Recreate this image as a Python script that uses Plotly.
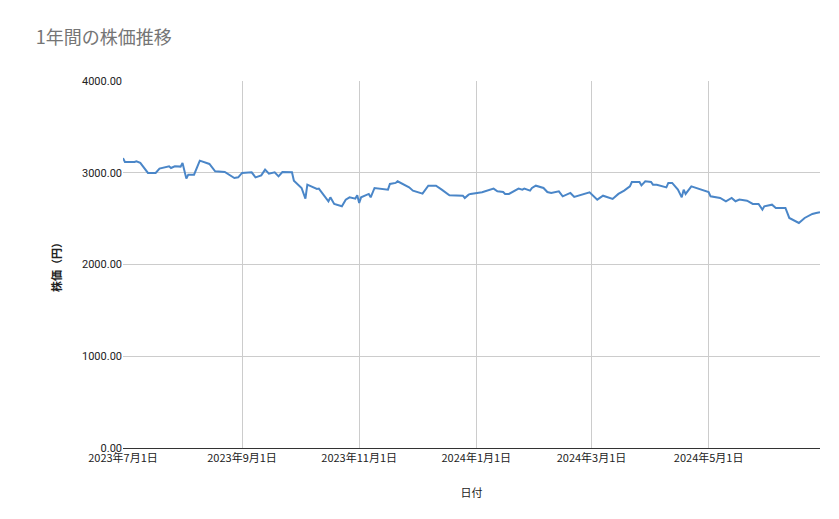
import plotly.graph_objects as go

dates = ["2023-07-01","2023-07-02","2023-07-07","2023-07-08","2023-07-10","2023-07-14","2023-07-18","2023-07-20","2023-07-25","2023-07-26","2023-07-28","2023-07-31","2023-08-01","2023-08-03","2023-08-04","2023-08-07","2023-08-10","2023-08-15","2023-08-18","2023-08-23","2023-08-28","2023-08-30","2023-09-01","2023-09-06","2023-09-08","2023-09-11","2023-09-13","2023-09-15","2023-09-18","2023-09-20","2023-09-22","2023-09-27","2023-09-28","2023-10-02","2023-10-04","2023-10-05","2023-10-10","2023-10-11","2023-10-16","2023-10-17","2023-10-19","2023-10-23","2023-10-25","2023-10-27","2023-10-30","2023-10-31","2023-11-01","2023-11-02","2023-11-06","2023-11-07","2023-11-09","2023-11-14","2023-11-16","2023-11-17","2023-11-20","2023-11-21","2023-11-27","2023-11-29","2023-12-04","2023-12-07","2023-12-11","2023-12-14","2023-12-18","2023-12-25","2023-12-26","2023-12-28","2023-12-29","2024-01-04","2024-01-10","2024-01-12","2024-01-15","2024-01-16","2024-01-18","2024-01-23","2024-01-25","2024-01-26","2024-01-29","2024-01-30","2024-02-01","2024-02-05","2024-02-07","2024-02-09","2024-02-13","2024-02-15","2024-02-19","2024-02-21","2024-02-26","2024-02-29","2024-03-04","2024-03-07","2024-03-12","2024-03-15","2024-03-18","2024-03-21","2024-03-22","2024-03-26","2024-03-27","2024-03-29","2024-04-01","2024-04-02","2024-04-04","2024-04-08","2024-04-09","2024-04-10","2024-04-12","2024-04-15","2024-04-17","2024-04-18","2024-04-19","2024-04-22","2024-04-25","2024-04-29","2024-05-01","2024-05-02","2024-05-07","2024-05-10","2024-05-13","2024-05-15","2024-05-17","2024-05-21","2024-05-24","2024-05-27","2024-05-29","2024-05-30","2024-06-03","2024-06-05","2024-06-10","2024-06-12","2024-06-17","2024-06-20","2024-06-24","2024-06-26","2024-06-28"]
prices = [3160,3117,3117,3125,3107,2998,2998,3045,3070,3052,3070,3067,3107,2936,2979,2979,3132,3096,3016,3008,2943,2950,2998,3005,2950,2972,3034,2990,3005,2961,3008,3005,2914,2834,2718,2870,2823,2827,2689,2732,2660,2634,2707,2732,2718,2754,2671,2732,2769,2732,2834,2816,2816,2878,2889,2907,2841,2805,2772,2859,2859,2816,2754,2750,2725,2761,2769,2787,2827,2798,2790,2769,2769,2827,2816,2827,2805,2834,2859,2834,2790,2780,2798,2743,2780,2736,2769,2787,2707,2750,2714,2769,2805,2852,2899,2899,2863,2907,2899,2870,2870,2852,2841,2889,2889,2816,2732,2816,2769,2852,2834,2805,2790,2743,2725,2689,2725,2689,2707,2696,2660,2660,2598,2634,2652,2616,2616,2507,2453,2507,2551,2561,2570]

tick_vals = ["2023-07-01","2023-09-01","2023-11-01","2024-01-01","2024-03-01","2024-05-01"]
tick_text = ["2023年7月1日","2023年9月1日","2023年11月1日","2024年1月1日","2024年3月1日","2024年5月1日"]

fig = go.Figure(go.Scatter(x=dates, y=prices, mode="lines",
                           line=dict(color="#4a86c8", width=2), hoverinfo="x+y"))
font = "Roboto, Arial, sans-serif"
fig.update_layout(
    width=839, height=519, paper_bgcolor="white", plot_bgcolor="white",
    margin=dict(l=115, r=27, t=73, b=79, autoexpand=False),
    font=dict(family=font, size=11, color="#222"),
    title=dict(text="1年間の株価推移", x=0.033, y=0.955, xanchor="left", yanchor="top",
               font=dict(size=18, color="#757575", family="Noto Sans CJK JP")),
    showlegend=False,
    xaxis=dict(type="date", range=["2023-07-01","2024-06-28"], tickvals=tick_vals, ticktext=tick_text,
               showgrid=True, gridcolor="#cccccc", zeroline=False, showline=True, linecolor="#333",
               ticks="", automargin=False, tickfont=dict(size=11, family="Noto Sans CJK JP"),
               title=dict(text="日付", font=dict(size=11, family="Noto Sans CJK JP"), standoff=25)),
    yaxis=dict(range=[0,4000], dtick=1000, tickformat=".2f", showgrid=True, gridcolor="#cccccc",
               zeroline=False, ticks="", automargin=False, tickfont=dict(size=11),
               title=dict(text="<b>株価（円）</b>", font=dict(size=11, family="Noto Sans CJK JP"), standoff=18)),
)
fig.write_html("out.html")
